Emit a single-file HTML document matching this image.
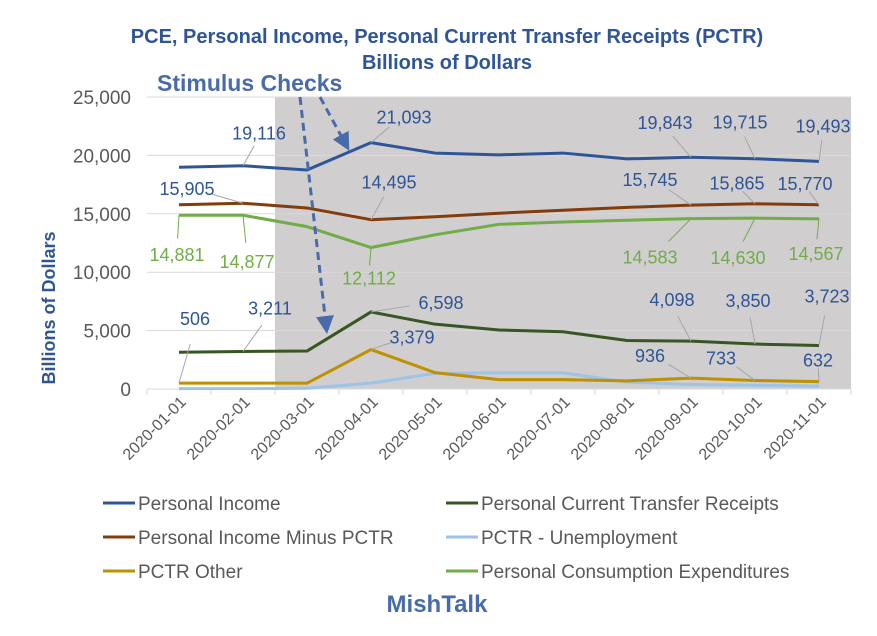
<!DOCTYPE html>
<html><head><meta charset="utf-8"><style>
body{margin:0;background:#fff;font-family:"Liberation Sans",Arial,sans-serif}
svg text{font-family:"Liberation Sans",Arial,sans-serif}
</style></head><body>
<svg id="c" width="877" height="631" viewBox="0 0 877 631">
<rect width="877" height="631" fill="#fff"/>
<text x="447" y="43" text-anchor="middle" font-size="20" font-weight="bold" fill="#2F5597">PCE, Personal Income, Personal Current Transfer Receipts (PCTR)</text>
<text x="447" y="69" text-anchor="middle" font-size="20" font-weight="bold" fill="#2F5597">Billions of Dollars</text>
<text x="55" y="308" text-anchor="middle" font-size="18" font-weight="bold" fill="#2F5597" transform="rotate(-90 55 308)">Billions of Dollars</text>
<g id="plot"></g>
<text x="157" y="91" font-size="23" font-weight="bold" fill="#4A6BAA">Stimulus Checks</text>
<text x="437" y="612" text-anchor="middle" font-size="24" font-weight="bold" fill="#4A6BAA">MishTalk</text>
</svg>
<script>
const categories=["2020-01-01","2020-02-01","2020-03-01","2020-04-01","2020-05-01","2020-06-01","2020-07-01","2020-08-01","2020-09-01","2020-10-01","2020-11-01"];
const personalIncome=[18990,19116,18750,21093,20200,20050,20200,19700,19843,19715,19493];
const piMinusPctr=[15780,15905,15500,14495,14750,15050,15300,15550,15745,15865,15770];
const pce=[14881,14877,13900,12112,13200,14100,14300,14450,14583,14630,14567];
const pctr=[3150,3211,3250,6598,5550,5050,4900,4150,4098,3850,3723];
const unemployment=[30,30,60,500,1350,1380,1380,600,380,320,250];
const pctrOther=[506,506,500,3379,1400,800,800,700,936,733,632];
const yTicks=[0,5000,10000,15000,20000,25000];
const NS="http://www.w3.org/2000/svg";
const g=document.getElementById('plot');
const X0=147,STEP=64,Y0=389,YTOP=97,YMAX=25000;
const xs=i=>X0+STEP/2+STEP*i;
const ys=v=>Y0-(v/YMAX)*(Y0-YTOP);
function el(t,a,p){const e=document.createElementNS(NS,t);for(const k in a)e.setAttribute(k,a[k]);(p||g).appendChild(e);return e;}
const fmt=v=>v.toLocaleString('en-US');
const sh=el('rect',{x:xs(1)+STEP/2,y:YTOP,width:X0+STEP*11-(xs(1)+STEP/2),height:Y0-YTOP,fill:'#D0CECE'});


yTicks.forEach(t=>{
 const l=el('line',{x1:X0,x2:X0+STEP*11,y1:ys(t),y2:ys(t),stroke:'#D9D9D9','stroke-width':1});
 
 
 const tx=el('text',{x:X0-16,y:ys(t)+7,'text-anchor':'end','font-size':19,fill:'#595959'});
 tx.textContent=fmt(t);
 
 
});
el('line',{x1:X0,x2:X0+STEP*11,y1:Y0,y2:Y0,stroke:'#D9D9D9'});
for(let i=0;i<=11;i++)el('line',{x1:X0+STEP*i,x2:X0+STEP*i,y1:Y0,y2:Y0+6,stroke:'#D9D9D9'});
categories.forEach((c,i)=>{
 const x=xs(i)+8,y=Y0+14;
 const t=el('text',{x:x,y:y,'text-anchor':'end','font-size':16,fill:'#595959',transform:`rotate(-45 ${x} ${y})`});
 t.textContent=c;
 
 
});
const series=[
 {d:unemployment,c:'#9DC3E6',n:'series-unemployment'},
 {d:pctrOther,c:'#BF9000',n:'series-pctr-other'},
 {d:pctr,c:'#375623',n:'series-pctr'},
 {d:pce,c:'#70AD47',n:'series-pce'},
 {d:piMinusPctr,c:'#843C0C',n:'series-pi-minus-pctr'},
 {d:personalIncome,c:'#2F5597',n:'series-personal-income'}];
series.forEach(s=>{
 const p=el('polyline',{points:s.d.map((v,i)=>xs(i)+','+ys(v)).join(' '),fill:'none',stroke:s.c,'stroke-width':3,'stroke-linejoin':'round'});
 
 
});
const B='#2F5597',G='#70AD47';
const labels=[
 [personalIncome,1,16,-33,B],[personalIncome,3,33,-26,B],[personalIncome,8,-26,-35,B],[personalIncome,9,-15,-37,B],[personalIncome,10,4,-36,B],
 [piMinusPctr,1,-56,-15,B],[piMinusPctr,3,18,-38,B],[piMinusPctr,8,-41,-26,B],[piMinusPctr,9,-18,-21,B],[piMinusPctr,10,-14,-22,B],
 [pce,0,-2,39,G],[pce,1,4,46,G],[pce,3,-2,30,G],[pce,8,-41,38,G],[pce,9,-17,39,G],[pce,10,-3,34,G],
 [pctr,1,27,-44,B],[pctr,3,70,-10,B],[pctr,8,-19,-42,B],[pctr,9,-7,-44,B],[pctr,10,8,-50,B],
 [pctrOther,0,16,-65,B],[pctrOther,3,41,-13,B],[pctrOther,8,-41,-23,B],[pctrOther,9,-34,-23,B],[pctrOther,10,-1,-22,B]];
labels.forEach(([d,i,dx,dy,c])=>{
 const x=xs(i),y=ys(d[i]);
 const f=Math.abs(dx)>30?0.55:0.7;
 el('line',{x1:x,y1:y,x2:x+dx*f,y2:y+dy*0.6,stroke:c===G?G:'#A6A6A6','stroke-width':1});
 const t=el('text',{x:x+dx,y:y+dy+7,'text-anchor':'middle','font-size':18,fill:c});
 t.textContent=fmt(d[i]);
 
 
});
const svg=document.getElementById('c');
el('defs',{},svg).innerHTML='<marker id="ah" markerWidth="6" markerHeight="6" refX="3" refY="3" orient="auto"><path d="M0,0 L6,3 L0,6 z" fill="#4A6BAA"/></marker>';
el('line',{x1:320,y1:97,x2:345,y2:143,stroke:'#4A6BAA','stroke-width':3,'stroke-dasharray':'8,5','marker-end':'url(#ah)'},svg);
el('line',{x1:300,y1:97,x2:326,y2:325,stroke:'#4A6BAA','stroke-width':3,'stroke-dasharray':'8,5','marker-end':'url(#ah)'},svg);
const legend=[['Personal Income','#2F5597',103,503],['Personal Current Transfer Receipts','#375623',446,503],
['Personal Income Minus PCTR','#843C0C',103,537],['PCTR - Unemployment','#9DC3E6',446,537],
['PCTR Other','#BF9000',103,571],['Personal Consumption Expenditures','#70AD47',446,571]];
legend.forEach(([n,c,x,y])=>{
 const lg=el('g',{},svg);
 
 
 el('line',{x1:x,x2:x+32,y1:y,y2:y,stroke:c,'stroke-width':3},lg);
 const t=el('text',{x:x+35,y:y+7,'font-size':19,fill:'#595959'},lg);
 t.textContent=n;
});
</script>
</body></html>
